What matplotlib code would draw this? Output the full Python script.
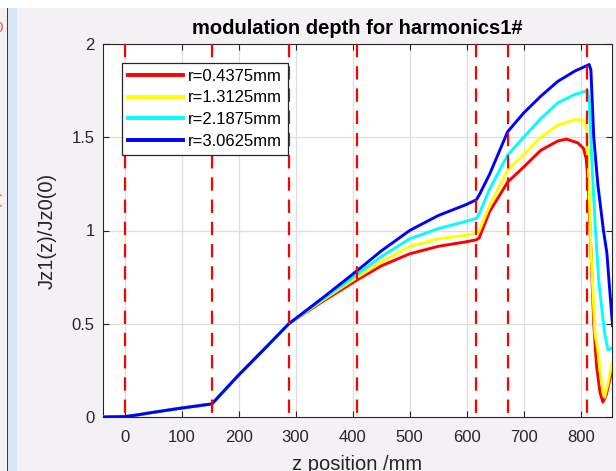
import matplotlib
matplotlib.use("Agg")
import matplotlib.pyplot as plt
from matplotlib.patches import Rectangle

plt.rcParams['font.family'] = ['Liberation Sans', 'DejaVu Sans']

# z positions (mm) and normalised first-harmonic current for each radius
z_front = [-40, 0, 20, 50, 100, 153, 200, 250, 288]
v_front = [0.0, 0.002, 0.01, 0.025, 0.048, 0.07, 0.225, 0.38, 0.5]

z_r1 = [350, 408, 450, 500, 550, 600, 617, 622, 640, 672, 700, 730,
        760, 775, 795, 805, 810, 813, 818, 823, 828, 834, 839, 845, 855]
v_r1 = [0.625, 0.735, 0.81, 0.875, 0.915, 0.94, 0.95, 0.96, 1.10,
        1.26, 1.34, 1.43, 1.48, 1.49, 1.47, 1.44, 1.38, 1.25, 0.9, 0.5, 0.27,
        0.13, 0.08, 0.12, 0.25]

z_r2 = [350, 408, 450, 500, 550, 600, 617, 622, 640, 672, 700, 730,
        760, 790, 805, 810, 814, 818, 825, 830, 836, 842, 848, 855]
v_r2 = [0.632, 0.75, 0.83, 0.915, 0.955, 0.975, 0.985, 1.0,
        1.13, 1.325, 1.405, 1.50, 1.565, 1.595, 1.59, 1.55, 1.3, 0.9, 0.45,
        0.36, 0.2, 0.107, 0.18, 0.29]

z_r3 = [350, 408, 450, 500, 550, 600, 617, 622, 640, 672, 700, 730,
        760, 790, 812, 815, 820, 826, 832, 842, 848, 855]
v_r3 = [0.638, 0.765, 0.86, 0.955, 1.01, 1.05, 1.065, 1.09, 1.22,
        1.405, 1.50, 1.60, 1.685, 1.73, 1.75, 1.70, 1.35, 1.0, 0.72, 0.45,
        0.36, 0.37]

z_r4 = [350, 408, 450, 500, 550, 600, 617, 622, 640, 672, 700, 730,
        760, 790, 815, 818, 823, 830, 840, 846, 850, 856]
v_r4 = [0.645, 0.785, 0.89, 1.0, 1.08, 1.14, 1.165, 1.19, 1.30,
        1.53, 1.63, 1.72, 1.80, 1.855, 1.89, 1.86, 1.5, 1.25, 1.0, 0.88, 0.72,
        0.49]

labels = ['r=0.4375mm', 'r=1.3125mm', 'r=2.1875mm', 'r=3.0625mm']
colors = ['#ff0000', '#ffff00', '#00ffff', '#0000ff']

# element boundaries along z (mm)
boundaries = [0, 153, 288, 408, 617, 672, 812]

x_ticks = [0, 100, 200, 300, 400, 500, 600, 700, 800]
y_ticks = [0, 0.5, 1, 1.5, 2]
y_ticklabels = ['0', '0.5', '1', '1.5', '2']

W, H = 616, 471
fig = plt.figure(figsize=(W / 100, H / 100), dpi=100, facecolor='#f4f1f4')

# window chrome: white strip on top, divider and blue panel edge on the left
fig.add_artist(Rectangle((0, 1 - 8 / H), 1, 8 / H, transform=fig.transFigure,
                         facecolor='white', edgecolor='none', zorder=0))
fig.add_artist(Rectangle((8 / W, 0), 9 / W, 1 - 8 / H, transform=fig.transFigure,
                         facecolor='#d6e6f5', edgecolor='none', zorder=0))
fig.add_artist(Rectangle((6.5 / W, 0), 1.2 / W, 1 - 8 / H, transform=fig.transFigure,
                         facecolor='#3a3a3a', edgecolor='none', zorder=0))
fig.text(-1 / W, 1 - 28 / H, '0', color='#d9662e', fontsize=11,
         ha='center', va='center')
fig.text(-4 / W, 1 - 200 / H, 'z(0)/', color='#d9662e', fontsize=10,
         rotation=90, ha='center', va='center')

ax = fig.add_axes([103 / W, 1 - 417 / H, 509 / W, 373 / H])
ax.set_facecolor('white')

series = [(z_r1, v_r1), (z_r2, v_r2), (z_r3, v_r3), (z_r4, v_r4)]
for (zs, vs), c, lab in zip(series, colors, labels):
    ax.plot(z_front + zs, v_front + vs, color=c, lw=2.1, label=lab,
            solid_joinstyle='round', zorder=3)

for b in boundaries:
    ax.plot([b, b], [2, 0], color='#ff0000', lw=1.6, dashes=(6, 4), zorder=4)

ax.set_xlim(-38, 855)
ax.set_ylim(0, 2)
ax.set_xticks(x_ticks)
ax.set_yticks(y_ticks)
ax.set_yticklabels(y_ticklabels)
ax.grid(True, color='#dddddd', lw=0.9)
ax.set_axisbelow(True)
ax.tick_params(direction='in', length=4, width=0.8, colors='#262626',
               labelsize=12, top=True, right=True)
ax.tick_params(axis='x', pad=9)
ax.tick_params(axis='y', pad=6)
for sp in ax.spines.values():
    sp.set_color('#262626')
    sp.set_linewidth(0.8)

ax.set_title('modulation depth for harmonics1#', fontsize=14.5,
             fontweight='bold', pad=7, color='black')
fig.text(47 / W, 1 - 230.5 / H, 'Jz1(z)/Jz0(0)', rotation=90, fontsize=14.5,
         color='#262626', ha='center', va='center')
fig.text(357 / W, 1 - 455 / H, 'z position /mm', fontsize=14.5,
         color='#262626', ha='center', va='top')

leg = ax.legend(loc='upper left', bbox_to_anchor=(122 / W, 1 - 63 / H),
                bbox_transform=fig.transFigure, borderaxespad=0,
                fancybox=False, framealpha=1, edgecolor='#262626',
                fontsize=12, handlelength=3.3, handletextpad=0.3,
                labelspacing=0.4, borderpad=0.35)
leg.get_frame().set_linewidth(0.9)
for line in leg.get_lines():
    line.set_linewidth(2.8)

fig.savefig('out.png', dpi=100, facecolor=fig.get_facecolor())
